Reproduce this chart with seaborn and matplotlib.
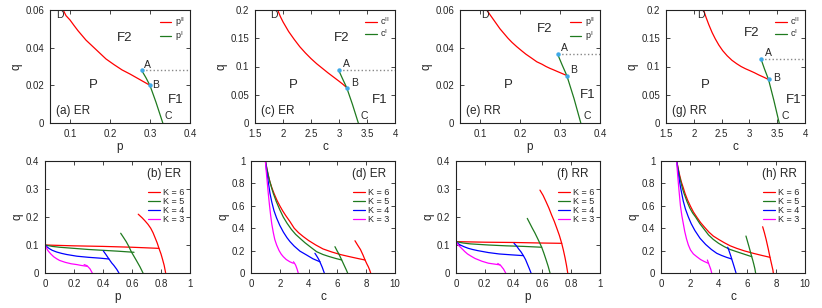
import matplotlib
matplotlib.use("Agg")
import matplotlib.pyplot as plt
import seaborn as sns

sns.set_style("ticks")
plt.rcParams['font.family'] = ['Liberation Sans', 'DejaVu Sans']
plt.rcParams['mathtext.fontset'] = 'custom'
plt.rcParams['mathtext.rm'] = 'Liberation Sans'

RED, GREEN, BLUE, MAG = '#ff0000', '#1f7a1f', '#0000ff', '#ff00ff'
PT = '#3fa9e8'

# ---------------- top row data ----------------
# (a) ER, p-q
a_red_p = [0.083, 0.09, 0.1, 0.11, 0.12, 0.13, 0.14, 0.15, 0.16, 0.17, 0.18, 0.19, 0.2,
           0.21, 0.22, 0.23, 0.24, 0.25, 0.26, 0.27, 0.28, 0.29, 0.30]
a_red_q = [0.06, 0.057, 0.0547, 0.0518, 0.049, 0.0465, 0.044, 0.042, 0.040, 0.038, 0.036,
           0.034, 0.0325, 0.031, 0.0296, 0.0282, 0.0271, 0.026, 0.0248, 0.0236, 0.0224, 0.0212, 0.020]
a_grn_p = [0.279, 0.29, 0.30, 0.315, 0.332]
a_grn_q = [0.028, 0.024, 0.0199, 0.011, 0.0]
# (c) ER, c-q
c_red_c = [1.905, 1.95, 2.0, 2.1, 2.2, 2.3, 2.4, 2.5, 2.6, 2.7, 2.8, 2.9, 3.0, 3.07, 3.137]
c_red_q = [0.2, 0.189, 0.179, 0.162, 0.148, 0.135, 0.124, 0.114, 0.105, 0.097, 0.089,
           0.0815, 0.074, 0.0685, 0.0627]
c_grn_c = [2.994, 3.06, 3.137, 3.24, 3.345]
c_grn_q = [0.0935, 0.079, 0.0627, 0.033, 0.0]
# (e) RR, p-q
e_red_p = [0.117, 0.125, 0.135, 0.15, 0.16, 0.17, 0.18, 0.192, 0.205, 0.215, 0.23, 0.242,
           0.255, 0.265, 0.275, 0.283, 0.295, 0.305, 0.317]
e_red_q = [0.06, 0.0575, 0.0545, 0.050, 0.0475, 0.045, 0.0428, 0.0405, 0.0382, 0.0365,
           0.0343, 0.0325, 0.0312, 0.030, 0.029, 0.0283, 0.0272, 0.0263, 0.0252]
e_grn_p = [0.294, 0.305, 0.317, 0.335, 0.352]
e_grn_q = [0.0366, 0.031, 0.0252, 0.013, 0.0]
# (g) RR, c-q
g_red_c = [2.177, 2.22, 2.27, 2.33, 2.386, 2.45, 2.52, 2.6, 2.686, 2.77, 2.85, 2.93, 3.0,
           3.09, 3.17, 3.26, 3.344]
g_red_q = [0.2, 0.187, 0.174, 0.16, 0.149, 0.138, 0.128, 0.119, 0.111, 0.105, 0.1, 0.096,
           0.093, 0.089, 0.085, 0.081, 0.077]
g_grn_c = [3.206, 3.27, 3.344, 3.44, 3.536]
g_grn_q = [0.114, 0.096, 0.077, 0.040, 0.0]

# ---------------- bottom row data ----------------
# (b) ER, p-q : lower branches and steep branches
b_low = {
    6: ([0, 0.2, 0.4, 0.6, 0.786], [0.1, 0.097, 0.095, 0.092, 0.088]),
    5: ([0, 0.05, 0.1, 0.2, 0.3, 0.4, 0.5, 0.614], [0.1, 0.095, 0.092, 0.088, 0.084, 0.081, 0.078, 0.074]),
    4: ([0, 0.015, 0.03, 0.05, 0.08, 0.115, 0.15, 0.22, 0.3, 0.38, 0.441],
        [0.1, 0.093, 0.087, 0.081, 0.075, 0.07, 0.066, 0.060, 0.056, 0.053, 0.05]),
    3: ([0, 0, 0.01, 0.02, 0.04, 0.06, 0.08, 0.1, 0.14, 0.18, 0.22, 0.25, 0.29],
        [0.125, 0.1, 0.09, 0.08, 0.068, 0.058, 0.051, 0.045, 0.038, 0.033, 0.03, 0.027, 0.024]),
}
b_steep = {
    6: ([0.643, 0.67, 0.69, 0.71, 0.729, 0.745, 0.76, 0.774, 0.786, 0.8, 0.81, 0.822, 0.832],
        [0.21, 0.197, 0.186, 0.174, 0.16, 0.144, 0.125, 0.107, 0.088, 0.068, 0.05, 0.027, 0.0]),
    5: ([0.522, 0.54, 0.56, 0.578, 0.595, 0.612, 0.63, 0.655, 0.676],
        [0.142, 0.128, 0.112, 0.095, 0.076, 0.061, 0.045, 0.022, 0.0]),
    4: ([0.402, 0.42, 0.441, 0.46, 0.475, 0.495, 0.51], [0.079, 0.066, 0.05, 0.036, 0.027, 0.013, 0.0]),
    3: ([0.27, 0.29, 0.31, 0.326], [0.03, 0.026, 0.015, 0.0]),
}
# (d) ER, c-q
d_low = {
    6: ([1.0, 1.1, 1.2, 1.3, 1.45, 1.6, 1.8, 2.0, 2.2, 2.4, 2.7, 3.0, 3.3, 3.63, 4.0, 4.5, 5.0,
         5.6, 6.2, 6.8, 7.4, 7.92],
        [1.0, 0.93, 0.87, 0.82, 0.76, 0.71, 0.65, 0.60, 0.555, 0.515, 0.46, 0.40, 0.36, 0.325,
         0.29, 0.25, 0.215, 0.188, 0.165, 0.147, 0.13, 0.116]),
    5: ([1.0, 1.1, 1.2, 1.3, 1.42, 1.55, 1.75, 2.0, 2.24, 2.5, 2.8, 3.1, 3.4, 3.75, 4.15, 4.56,
         5.0, 5.4, 5.85, 6.3],
        [1.0, 0.935, 0.875, 0.82, 0.765, 0.71, 0.64, 0.565, 0.5, 0.445, 0.39, 0.345, 0.31, 0.27,
         0.23, 0.19, 0.165, 0.148, 0.131, 0.116]),
    4: ([1.0, 1.08, 1.16, 1.24, 1.32, 1.45, 1.6, 1.78, 2.0, 2.25, 2.5, 2.71, 3.0, 3.4, 3.87, 4.3, 4.79],
        [1.0, 0.92, 0.85, 0.78, 0.71, 0.63, 0.555, 0.49, 0.425, 0.365, 0.315, 0.28, 0.24, 0.195,
         0.16, 0.127, 0.10]),
    3: ([1.0, 1.05, 1.1, 1.15, 1.2, 1.28, 1.36, 1.44, 1.55, 1.65, 1.78, 1.95, 2.1, 2.24, 2.45,
         2.7, 2.94],
        [1.0, 0.92, 0.85, 0.78, 0.71, 0.61, 0.52, 0.44, 0.36, 0.30, 0.25, 0.2, 0.168, 0.146,
         0.12, 0.1, 0.087]),
}
d_steep = {
    6: ([7.22, 7.4, 7.6, 7.78, 7.92, 8.05, 8.15, 8.24, 8.31], [0.288, 0.25, 0.21, 0.16, 0.116, 0.08, 0.055, 0.027, 0.0]),
    5: ([5.83, 5.97, 6.1, 6.2, 6.3, 6.4, 6.5, 6.61, 6.71], [0.235, 0.2, 0.17, 0.143, 0.116, 0.088, 0.06, 0.03, 0.0]),
    4: ([4.44, 4.53, 4.62, 4.71, 4.79, 4.87, 4.95, 5.02, 5.09], [0.176, 0.158, 0.14, 0.12, 0.098, 0.074, 0.05, 0.025, 0.0]),
    3: ([2.95, 3.03, 3.1, 3.2, 3.28], [0.1, 0.085, 0.07, 0.035, 0.0]),
}
# (f) RR, p-q
f_low = {
    6: ([0, 0.2, 0.4, 0.6, 0.734], [0.112, 0.110, 0.109, 0.107, 0.106]),
    5: ([0, 0.05, 0.1, 0.225, 0.35, 0.47, 0.595], [0.112, 0.107, 0.104, 0.1, 0.097, 0.095, 0.092]),
    4: ([0, 0.015, 0.03, 0.055, 0.086, 0.115, 0.15, 0.225, 0.3, 0.38, 0.468],
        [0.112, 0.105, 0.1, 0.094, 0.088, 0.084, 0.08, 0.073, 0.068, 0.065, 0.062]),
    3: ([0, 0, 0.015, 0.039, 0.06, 0.08, 0.105, 0.132, 0.18, 0.225, 0.265, 0.306],
        [0.13, 0.112, 0.1, 0.088, 0.077, 0.068, 0.06, 0.052, 0.042, 0.035, 0.032, 0.029]),
}
f_steep = {
    6: ([0.583, 0.605, 0.625, 0.645, 0.664, 0.683, 0.70, 0.718, 0.734, 0.746, 0.757, 0.767, 0.776],
        [0.296, 0.277, 0.255, 0.232, 0.207, 0.184, 0.16, 0.134, 0.106, 0.081, 0.055, 0.028, 0.0]),
    5: ([0.495, 0.512, 0.53, 0.548, 0.565, 0.58, 0.595, 0.61, 0.625, 0.64, 0.653],
        [0.195, 0.178, 0.16, 0.143, 0.125, 0.109, 0.092, 0.071, 0.048, 0.024, 0.0]),
    4: ([0.403, 0.42, 0.435, 0.452, 0.468, 0.483, 0.495, 0.508, 0.521],
        [0.106, 0.097, 0.086, 0.075, 0.062, 0.048, 0.033, 0.017, 0.0]),
    3: ([0.29, 0.31, 0.33, 0.345], [0.034, 0.027, 0.014, 0.0]),
}
# (h) RR, c-q
h_low = {
    6: ([1.09, 1.2, 1.3, 1.42, 1.55, 1.67, 1.85, 2.05, 2.25, 2.48, 2.75, 3.05, 3.33, 3.63, 4.0,
         4.4, 4.8, 5.26, 5.8, 6.4, 7.0, 7.57],
        [1.0, 0.93, 0.87, 0.81, 0.76, 0.71, 0.65, 0.595, 0.545, 0.5, 0.45, 0.405, 0.365, 0.33,
         0.3, 0.27, 0.243, 0.22, 0.197, 0.176, 0.157, 0.14]),
    5: ([1.09, 1.2, 1.3, 1.4, 1.5, 1.6, 1.8, 2.0, 2.2, 2.4, 2.7, 3.0, 3.3, 3.63, 4.0, 4.4, 4.8,
         5.26, 5.8, 6.3],
        [1.0, 0.92, 0.855, 0.8, 0.75, 0.71, 0.64, 0.58, 0.535, 0.5, 0.44, 0.39, 0.34, 0.30,
         0.265, 0.235, 0.21, 0.19, 0.167, 0.146]),
    4: ([1.09, 1.17, 1.26, 1.35, 1.44, 1.55, 1.7, 1.9, 2.1, 2.35, 2.71, 3.1, 3.5, 3.87, 4.2,
         4.55, 4.91],
        [1.0, 0.92, 0.84, 0.77, 0.71, 0.64, 0.57, 0.5, 0.44, 0.38, 0.31, 0.255, 0.21, 0.176,
         0.157, 0.14, 0.125]),
    3: ([1.09, 1.13, 1.18, 1.22, 1.27, 1.35, 1.45, 1.55, 1.65, 1.77, 1.9, 2.05, 2.25, 2.48,
         2.75, 3.0, 3.28],
        [1.0, 0.92, 0.84, 0.78, 0.71, 0.60, 0.51, 0.44, 0.37, 0.305, 0.25, 0.205, 0.17, 0.146,
         0.12, 0.103, 0.087]),
}
h_steep = {
    6: ([7.06, 7.18, 7.3, 7.44, 7.57, 7.65, 7.72, 7.77, 7.8], [0.413, 0.36, 0.3, 0.22, 0.14, 0.095, 0.055, 0.027, 0.0]),
    5: ([5.9, 6.0, 6.1, 6.2, 6.3, 6.38, 6.45, 6.52, 6.57], [0.33, 0.285, 0.24, 0.193, 0.146, 0.11, 0.075, 0.037, 0.0]),
    4: ([4.63, 4.72, 4.8, 4.86, 4.91, 4.99, 5.07, 5.14, 5.21], [0.23, 0.2, 0.17, 0.147, 0.125, 0.093, 0.06, 0.03, 0.0]),
    3: ([3.22, 3.35, 3.45, 3.52], [0.116, 0.07, 0.035, 0.0]),
}
K_values = [6, 5, 4, 3]
K_colors = {6: RED, 5: GREEN, 4: BLUE, 3: MAG}

W, H = 822, 308
fig = plt.figure(figsize=(W / 100, H / 100), dpi=100)

def mk_ax(l, r, t, b):
    return fig.add_axes([l / W, 1 - b / H, (r - l) / W, (b - t) / H])

FS_TICK = 7
LW = 0.9

def style(ax, xlim, ylim, xt, xtl, yt, ytl, xl):
    ax.set_xlim(xlim); ax.set_ylim(ylim)
    ax.set_xticks(xt); ax.set_xticklabels(xtl)
    ax.set_yticks(yt); ax.set_yticklabels(ytl)
    ax.tick_params(direction='in', top=True, right=True, length=3, width=0.6,
                   labelsize=FS_TICK)
    ax.tick_params(axis='x', pad=4.5)
    ax.tick_params(axis='y', pad=4)
    for s in ax.spines.values():
        s.set_linewidth(0.8); s.set_color('#222222'); s.set_visible(True)
    ax.set_xlabel(xl, fontsize=8.5, labelpad=1)
    ax.set_ylabel('q', fontsize=8.5, labelpad=2)

def line(ax, x, y, color, label=None):
    sns.lineplot(x=x, y=y, sort=False, estimator=None, color=color, lw=LW, ax=ax,
                 label=label, legend=bool(label))

def top_panel(ax, rx, ry, gx, gy, xlim, ylim, xt, xtl, yt, ytl, xl, var, tag, labels):
    line(ax, rx, ry, RED, var + r'$^{\mathregular{II}}$')
    line(ax, gx, gy, GREEN, var + r'$^{\mathregular{I}}$')
    ax.plot([gx[0], xlim[1]], [gy[0], gy[0]], ls=':', color='#888888', lw=1.0)
    ax.plot([gx[0], rx[-1]], [gy[0], ry[-1]], 'o', color=PT, ms=3.2, mec='none', zorder=5)
    for txt, (x, y), fs in labels:
        ax.text(x, y, txt, fontsize=fs, ha='center', va='center')
    ax.text(0.045, 0.11, tag, transform=ax.transAxes, fontsize=8.5, ha='left', va='center')
    style(ax, xlim, ylim, xt, xtl, yt, ytl, xl)
    ax.legend(loc='upper right', fontsize=6.5, frameon=False, handlelength=1.3,
              handletextpad=0.35, labelspacing=0.0, borderaxespad=0.2)

ax = mk_ax(50, 190, 10, 123)
top_panel(ax, a_red_p, a_red_q, a_grn_p, a_grn_q, (0.05, 0.4), (0, 0.06),
          [0.1, 0.2, 0.3, 0.4], ['0.1', '0.2', '0.3', '0.4'],
          [0, 0.02, 0.04, 0.06], ['0', '0.02', '0.04', '0.06'], 'p', 'p', '(a) ER',
          [('D', (0.075, 0.0573), 7.5), ('A', (0.2925, 0.0307), 7.5), ('B', (0.315, 0.020), 7.5),
           ('C', (0.346, 0.0035), 7.5), ('F2', (0.2375, 0.045), 9.5), ('P', (0.158, 0.020), 9.5),
           ('F1', (0.365, 0.012), 9.5)])
ax = mk_ax(255, 395, 10, 123)
top_panel(ax, c_red_c, c_red_q, c_grn_c, c_grn_q, (1.5, 4), (0, 0.2),
          [1.5, 2, 2.5, 3, 3.5, 4], ['1.5', '2', '2.5', '3', '3.5', '4'],
          [0, 0.05, 0.1, 0.15, 0.2], ['0', '0.05', '0.1', '0.15', '0.2'], 'c', 'c', '(c) ER',
          [('D', (1.83, 0.191), 7.5), ('A', (3.14, 0.105), 7.5), ('B', (3.28, 0.07), 7.5),
           ('C', (3.45, 0.012), 7.5), ('F2', (3.05, 0.15), 9.5), ('P', (2.18, 0.067), 9.5),
           ('F1', (3.73, 0.04), 9.5)])
ax = mk_ax(460, 600, 10, 123)
top_panel(ax, e_red_p, e_red_q, e_grn_p, e_grn_q, (0.05, 0.4), (0, 0.06),
          [0.1, 0.2, 0.3, 0.4], ['0.1', '0.2', '0.3', '0.4'],
          [0, 0.02, 0.04, 0.06], ['0', '0.02', '0.04', '0.06'], 'p', 'p', '(e) RR',
          [('D', (0.1125, 0.0573), 7.5), ('A', (0.31, 0.0396), 7.5), ('B', (0.333, 0.028), 7.5),
           ('C', (0.367, 0.0035), 7.5), ('F2', (0.2625, 0.0497), 9.5), ('P', (0.171, 0.020), 9.5),
           ('F1', (0.37, 0.0147), 9.5)])
ax = mk_ax(666, 805, 10, 123)
top_panel(ax, g_red_c, g_red_q, g_grn_c, g_grn_q, (1.5, 4), (0, 0.2),
          [1.5, 2, 2.5, 3, 3.5, 4], ['1.5', '2', '2.5', '3', '3.5', '4'],
          [0, 0.05, 0.1, 0.15, 0.2], ['0', '0.05', '0.1', '0.15', '0.2'], 'c', 'c', '(g) RR',
          [('D', (2.12, 0.191), 7.5), ('A', (3.34, 0.124), 7.5), ('B', (3.48, 0.079), 7.5),
           ('C', (3.65, 0.012), 7.5), ('F2', (3.04, 0.16), 9.5), ('P', (2.2, 0.067), 9.5),
           ('F1', (3.79, 0.04), 9.5)])

def bottom_panel(ax, low, steep, xlim, ylim, xt, xtl, yt, ytl, xl, tag):
    for K in K_values:
        line(ax, low[K][0], low[K][1], K_colors[K], 'K = %d' % K)
        line(ax, steep[K][0], steep[K][1], K_colors[K])
    style(ax, xlim, ylim, xt, xtl, yt, ytl, xl)
    ax.text(0.70, 0.88, tag, transform=ax.transAxes, fontsize=8.5, ha='left', va='center')
    ax.legend(loc='upper right', bbox_to_anchor=(1.0, 0.81), fontsize=6.5, frameon=False,
              handlelength=1.3, handletextpad=0.35, labelspacing=0.0, borderaxespad=0.2)

ax = mk_ax(45, 190, 161, 273)
bottom_panel(ax, b_low, b_steep, (0, 1), (0, 0.4),
             [0, 0.2, 0.4, 0.6, 0.8, 1], ['0', '0.2', '0.4', '0.6', '0.8', '1'],
             [0, 0.1, 0.2, 0.3, 0.4], ['0', '0.1', '0.2', '0.3', '0.4'], 'p', '(b) ER')
ax = mk_ax(251, 395, 161, 273)
bottom_panel(ax, d_low, d_steep, (0, 10), (0, 1),
             [0, 2, 4, 6, 8, 10], ['0', '2', '4', '6', '8', '10'],
             [0, 0.2, 0.4, 0.6, 0.8, 1], ['0', '0.2', '0.4', '0.6', '0.8', '1'], 'c', '(d) ER')
ax = mk_ax(456, 600, 161, 273)
bottom_panel(ax, f_low, f_steep, (0, 1), (0, 0.4),
             [0, 0.2, 0.4, 0.6, 0.8, 1], ['0', '0.2', '0.4', '0.6', '0.8', '1'],
             [0, 0.1, 0.2, 0.3, 0.4], ['0', '0.1', '0.2', '0.3', '0.4'], 'p', '(f) RR')
ax = mk_ax(661, 805, 161, 273)
bottom_panel(ax, h_low, h_steep, (0, 10), (0, 1),
             [0, 2, 4, 6, 8, 10], ['0', '2', '4', '6', '8', '10'],
             [0, 0.2, 0.4, 0.6, 0.8, 1], ['0', '0.2', '0.4', '0.6', '0.8', '1'], 'c', '(h) RR')

fig.savefig('out.png', dpi=100)
